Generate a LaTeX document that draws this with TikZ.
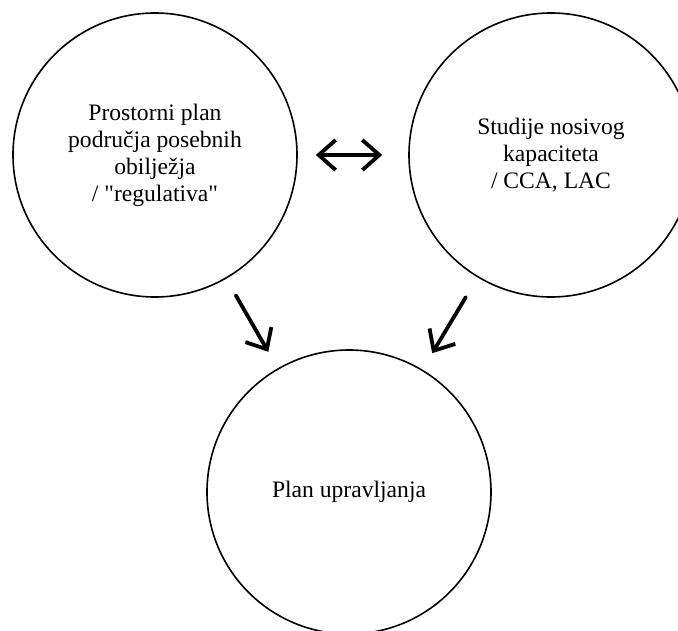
\documentclass[tikz,border=0pt]{standalone}
\usepackage{fontspec}
\setmainfont{Liberation Serif}
\usepackage{tikz}
\usetikzlibrary{positioning, arrows.meta}

\begin{document}
\begin{tikzpicture} [x = 0.5pt, y = -0.5pt, node distance = 198pt, on grid, auto,
        field/.style = {draw, circle, line width = 0.8pt, minimum size = 142pt,
            inner sep = 0pt, align = center, font = \fontsize{11.8}{13.5}\selectfont},
        barb/.tip = {Straight Barb[length = 8.5pt, width = 15pt]},
        link/.style = {line width = 1.9pt, line cap = round, -barb}]

        \useasboundingbox (0,0) rectangle (678,630); \clip (0,0) rectangle (678,630);

        \node (regul) [field] at (155,155) {Prostorni plan\\ područja posebnih\\
        obilježja\\ / \textquotedbl regulativa\textquotedbl}; \node (studije) [field, right = of regul]
        {Studije nosivog\\ kapaciteta\\ / CCA, LAC}; \node (plan) [field,
        below right = 168.5pt and 97pt of regul] {Plan upravljanja};

        \path [link]
            (regul) edge [barb-barb, shorten < = 9pt, shorten > = 13pt] (studije)
            (regul) edge [shorten < = 9.5pt, shorten > = 9.5pt] (plan)
            (studije) edge [shorten < = 11.5pt, shorten > = 9.5pt] (plan);
    \end{tikzpicture}
\end{document}
